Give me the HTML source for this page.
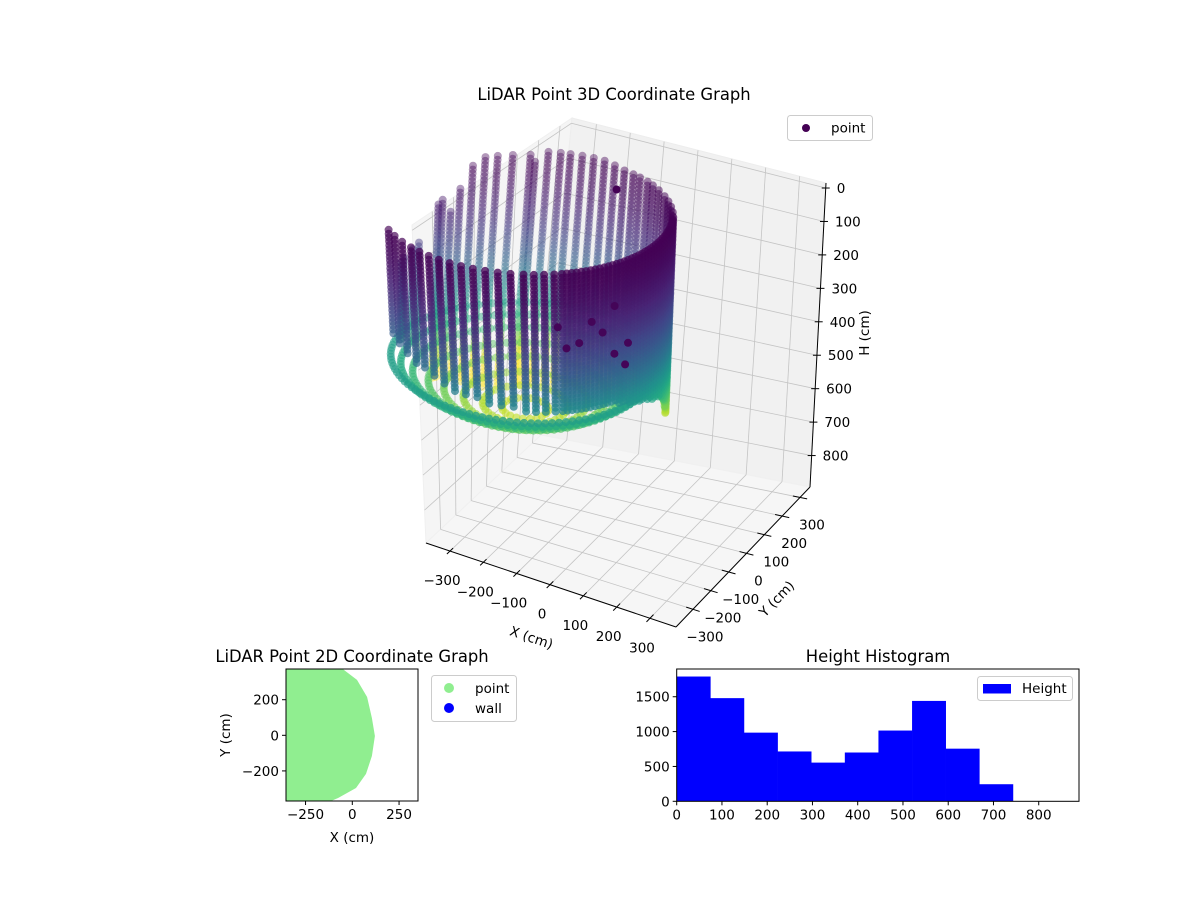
<!DOCTYPE html>
<html><head><meta charset="utf-8"><title>LiDAR charts</title>
<style>
html,body{margin:0;padding:0;background:#fff;}
svg{display:block;font-family:"DejaVu Sans","Liberation Sans",sans-serif;}
</style></head>
<body>
<svg id="fig" width="1200" height="900" viewBox="0 0 1200 900" xmlns="http://www.w3.org/2000/svg">
<rect x="0" y="0" width="1200" height="900" fill="#fff"/>
<g id="g3d"></g>
<text x="614" y="100" font-size="16.4" text-anchor="middle" fill="#000">LiDAR Point 3D Coordinate Graph</text>
<g>
<rect x="787.5" y="115.5" width="85" height="25" rx="3" fill="#fff" fill-opacity="0.8" stroke="#ccc"/>
<circle cx="806" cy="128" r="4" fill="#440154"/>
<text x="831" y="132.5" font-size="13.5" fill="#000">point</text>
</g>
<g id="g2d"></g>
<text x="352" y="662" font-size="16.4" text-anchor="middle" fill="#000">LiDAR Point 2D Coordinate Graph</text>
<g>
<rect x="431.5" y="675.5" width="85" height="46" rx="3" fill="#fff" stroke="#ccc"/>
<circle cx="449" cy="688" r="5" fill="#90ee90"/>
<text x="475" y="693" font-size="13.5" fill="#000">point</text>
<circle cx="449" cy="708" r="5" fill="#0000ff"/>
<text x="475" y="713" font-size="13.5" fill="#000">wall</text>
</g>
<g id="ghist"></g>
<text x="878" y="662" font-size="16.4" text-anchor="middle" fill="#000">Height Histogram</text>
<g>
<rect x="977.5" y="676.5" width="95" height="24" rx="3" fill="#fff" stroke="#ccc"/>
<rect x="983" y="684" width="28" height="9.5" fill="#0000ff"/>
<text x="1022" y="693" font-size="13.5" fill="#000">Height</text>
</g>
</svg>
<script>
// ---------- 3D data ----------
const frontAngles = [230,236,242,248,253,258,263,268,273,278,283,288,293,298,302,306,310,
 313,315,317,319,321,323,325,327,329,331,333,335,337,339,341,343,345,347,349,
 351,353,355,357,359,361,363,365,367,369,371,373,375,377,379,381,383,385,387];
const frontTops = [30,30,30,30,30,30,30,30,30,30,30,30,30,30,30,30,30,
 30,30,30,30,30,30,30,30,30,30,30,30,30,30,30,30,30,30,30,
 30,30,30,30,30,30,30,30,30,30,30,30,30,30,30,30,30,30,30];
const frontBottoms = [330,340,350,360,370,380,390,395,400,400,405,410,410,415,420,420,420,
 418,418,417,417,417,417,417,417,417,418,420,422,425,428,431,434,437,440,444,
 448,452,456,460,465,470,475,480,485,490,500,510,520,535,550,565,580,590,600];
const backAngles = [180,178,172,168,158,156,152,148,143,138,133,127,120,118,113,108,104,99,94,89,84,79,74,70,65,61,56,50,45,40,35];
const backTops = [270,260,250,240,150,140,180,120,60,40,40,40,40,60,30,30,30,30,30,30,35,40,40,40,40,40,40,40,40,40,40];
const backBottoms = [500,500,520,540,650,650,660,660,680,690,700,700,700,700,700,700,700,690,690,680,680,680,680,670,640,620,610,600,600,600,600];
const floorRadii = [60,110,160,210,250,290,320,345];
const floorHeights = [590,580,565,545,525,500,478,455];
const extraX = [186,131,204,216,236,315,364,315,191,-73];
const extraY = [-503,-575,-666,-623,-540,-627,-664,-556,-395,80];
const extraH = [60,60,60,60,60,60,60,60,60,0];
const ringCenter = [-221,-97];
const ringRadius = 360;
const xTicks3 = [-300,-200,-100,0,100,200,300];
const yTicks3 = [-300,-200,-100,0,100,200,300];
const hTicks3 = [0,100,200,300,400,500,600,700,800];

// ---------- 2D data ----------
const boundaryX = [-50,25,79,105,121,105,73,20,-76,-114];
const boundaryY = [372,311,215,97,-4,-116,-217,-296,-352,-369];
const xTicks2 = [-250,0,250];
const yTicks2 = [-200,0,200];

// ---------- Histogram data ----------
const binEdges = [0,74.3,148.6,222.9,297.2,371.5,445.8,520.1,594.4,668.7,743];
const binCounts = [1790,1480,985,715,555,700,1015,1440,755,245];
const histXTicks = [0,100,200,300,400,500,600,700,800];
const histYTicks = [0,500,1000,1500];

const NS='http://www.w3.org/2000/svg';
function mk(tag, attrs, parent){
  const e=document.createElementNS(NS,tag);
  for(const k in attrs) e.setAttribute(k, attrs[k]);
  parent.appendChild(e);
  return e;
}
const MINUS='\u2212';
function fmt(v){return v<0?MINUS+Math.abs(v):String(v);}

// ===== 3D =====
const g3=document.getElementById('g3d');
const XMIN=-372,XMAX=378,YMIN=-395,YMAX=356,HMIN=-15,HMAX=894;
const CR={T00:[412,225],T10:[682,297],T01:[572,118],T11:[826,183],B00:[426,543],B10:[676,627],B01:[541,435],B11:[810,487]};
function bil(A,B,C,D,u,v){
  const fx=A[0]+(B[0]-A[0])*u, fy=A[1]+(B[1]-A[1])*u;
  const bx=C[0]+(D[0]-C[0])*u, by=C[1]+(D[1]-C[1])*u;
  return [fx+(bx-fx)*v, fy+(by-fy)*v];
}
function P(x,y,h){
  const u=(x-XMIN)/(XMAX-XMIN), v=(y-YMIN)/(YMAX-YMIN), w=(h-HMIN)/(HMAX-HMIN);
  const t=bil(CR.T00,CR.T10,CR.T01,CR.T11,u,v), b=bil(CR.B00,CR.B10,CR.B01,CR.B11,u,v);
  return [t[0]+(b[0]-t[0])*w, t[1]+(b[1]-t[1])*w];
}
function poly(pts){return pts.map(p=>p[0].toFixed(1)+','+p[1].toFixed(1)).join(' ');}
let e;
e=mk('polygon',{points:poly([P(XMIN,YMIN,HMIN),P(XMIN,YMAX,HMIN),P(XMIN,YMAX,HMAX),P(XMIN,YMIN,HMAX)]),fill:'#f5f5f5',stroke:'#f0f0f0'},g3);


e=mk('polygon',{points:poly([P(XMIN,YMAX,HMIN),P(XMAX,YMAX,HMIN),P(XMAX,YMAX,HMAX),P(XMIN,YMAX,HMAX)]),fill:'#f1f1f1',stroke:'#ededed'},g3);


e=mk('polygon',{points:poly([P(XMIN,YMIN,HMAX),P(XMAX,YMIN,HMAX),P(XMAX,YMAX,HMAX),P(XMIN,YMAX,HMAX)]),fill:'#f6f6f6',stroke:'#f0f0f0'},g3);


function gl(a,b,name){
  const l=mk('line',{x1:a[0],y1:a[1],x2:b[0],y2:b[1],stroke:'#c4c4c4','stroke-width':0.8},g3);
  
  
}
xTicks3.forEach(x=>{gl(P(x,YMIN,HMAX),P(x,YMAX,HMAX),'x-gridline-floor');gl(P(x,YMAX,HMAX),P(x,YMAX,HMIN),'x-gridline-back');});
yTicks3.forEach(y=>{gl(P(XMIN,y,HMAX),P(XMAX,y,HMAX),'y-gridline-floor');gl(P(XMIN,y,HMAX),P(XMIN,y,HMIN),'y-gridline-left');});
hTicks3.forEach(h=>{gl(P(XMIN,YMIN,h),P(XMIN,YMAX,h),'h-gridline-left');gl(P(XMIN,YMAX,h),P(XMAX,YMAX,h),'h-gridline-back');});
function axl(a,b,name){
  const l=mk('line',{x1:a[0],y1:a[1],x2:b[0],y2:b[1],stroke:'#000','stroke-width':1},g3);
  
  
}
axl(P(XMIN,YMIN,HMAX),P(XMAX,YMIN,HMAX),'x-axis-line');
axl(P(XMAX,YMIN,HMAX),P(XMAX,YMAX,HMAX),'y-axis-line');
axl(P(XMAX,YMAX,HMIN),P(XMAX,YMAX,HMAX),'h-axis-line');
function lbl(x,y,txt,anchor,name,parent){
  const t=mk('text',{x:x,y:y,'font-size':13.5,'text-anchor':anchor,fill:'#000'},parent);
  t.textContent=txt;
  
  
  return t;
}
xTicks3.forEach(x=>{
  const a=P(x,YMIN+20,HMAX), b=P(x,YMIN-20,HMAX);
  axl(a,b,'x-tick');
  const p=P(x,YMIN,HMAX);
  lbl(p[0]-8,p[1]+34,fmt(x),'middle','x-tick-label',g3);
});
yTicks3.forEach(y=>{
  const a=P(XMAX-20,y,HMAX), b=P(XMAX+20,y,HMAX);
  axl(a,b,'y-tick');
  const p=P(XMAX,y,HMAX);
  lbl(p[0]+12,p[1]+32,fmt(y),'middle','y-tick-label',g3);
});
hTicks3.forEach(h=>{
  const p=P(XMAX,YMAX,h);
  axl([p[0]-4,p[1]],[p[0]+4,p[1]],'h-tick');
  lbl(p[0]+11,p[1]+5,fmt(h),'start','h-tick-label',g3);
});
let t=mk('text',{x:0,y:0,'font-size':13.5,'text-anchor':'middle',fill:'#000',transform:'translate(530,642) rotate(18.6)'},g3);
t.textContent='X (cm)';


t=mk('text',{x:0,y:0,'font-size':13.5,'text-anchor':'middle',fill:'#000',transform:'translate(780,602) rotate(-46)'},g3);
t.textContent='Y (cm)';


t=mk('text',{x:0,y:0,'font-size':13.5,'text-anchor':'middle',fill:'#000',transform:'translate(869,333) rotate(-90)'},g3);
t.textContent='H (cm)';



// viridis
const VIR=['#440154','#482475','#414487','#355f8d','#2a788e','#21918c','#22a884','#44bf70','#7ad151','#bddf26','#fde725'];
function hex(c){return [parseInt(c.substr(1,2),16),parseInt(c.substr(3,2),16),parseInt(c.substr(5,2),16)];}
function viridis(s){
  s=Math.max(0,Math.min(1,s));
  const f=s*10, i=Math.min(9,Math.floor(f)), r=f-i;
  const a=hex(VIR[i]), b=hex(VIR[i+1]);
  return 'rgb('+a.map((v,k)=>Math.round(v+(b[k]-v)*r)).join(',')+')';
}
function colorFor(h){return viridis(Math.pow(Math.max(0,h)/620,1.9));}

const pts=[];
function addColumn(theta,top,bot){
  const rad=theta*Math.PI/180;
  const x=ringCenter[0]+ringRadius*Math.cos(rad), y=ringCenter[1]+ringRadius*Math.sin(rad);
  for(let h=top; h<=bot; h+=11) pts.push([x,y,h]);
}
frontAngles.forEach((a,i)=>addColumn(a,frontTops[i],frontBottoms[i]));
backAngles.forEach((a,i)=>addColumn(a,backTops[i],backBottoms[i]));
floorRadii.forEach((r,i)=>{
  const n=Math.round(2*Math.PI*r/18);
  for(let k=0;k<n;k++){
    const a=2*Math.PI*k/n;
    pts.push([ringCenter[0]+r*Math.cos(a), ringCenter[1]+r*Math.sin(a), floorHeights[i]]);
  }
});
extraX.forEach((x,i)=>pts.push([x,extraY[i],extraH[i],1]));
function near(p){return 0.5*p[0]-0.866*p[1];}
let nmin=Infinity,nmax=-Infinity;
pts.forEach(p=>{const n=near(p); if(n<nmin)nmin=n; if(n>nmax)nmax=n;});
pts.sort((a,b)=>near(a)-near(b));
const gp=mk('g',{},g3);


pts.forEach(p=>{
  const s=P(p[0],p[1],p[2]);
  const al=p[3]?1:0.4+0.6*(near(p)-nmin)/(nmax-nmin);
  const c=mk('circle',{cx:s[0].toFixed(1),cy:s[1].toFixed(1),r:4,fill:colorFor(p[2]),'fill-opacity':al.toFixed(2)},gp);
  
  
});

// ===== 2D =====
const g2=document.getElementById('g2d');
const AX2={l:286,r:418,t:669,b:801}, X2MIN=-354.5,X2MAX=351.3,Y2MIN=-369,Y2MAX=372.5;
function sx2(x){return AX2.l+(x-X2MIN)/(X2MAX-X2MIN)*(AX2.r-AX2.l);}
function sy2(y){return AX2.b-(y-Y2MIN)/(Y2MAX-Y2MIN)*(AX2.b-AX2.t);}
const clip=mk('clipPath',{id:'clip2'},g2);
mk('rect',{x:AX2.l,y:AX2.t,width:AX2.r-AX2.l,height:AX2.b-AX2.t},clip);
const shape=[[sx2(X2MIN-10),sy2(boundaryY[0])]];
boundaryX.forEach((x,i)=>shape.push([sx2(x),sy2(boundaryY[i])]));
shape.push([sx2(X2MIN-10),sy2(boundaryY[boundaryY.length-1])]);
e=mk('polygon',{points:poly(shape),fill:'#90ee90','clip-path':'url(#clip2)'},g2);


e=mk('rect',{x:AX2.l,y:AX2.t,width:AX2.r-AX2.l,height:AX2.b-AX2.t,fill:'none',stroke:'#000','stroke-width':1},g2);


xTicks2.forEach(v=>{
  const x=sx2(v);
  e=mk('line',{x1:x,y1:AX2.b,x2:x,y2:AX2.b+4,stroke:'#000'},g2);
  
  
  lbl(x,AX2.b+18,fmt(v),'middle','2d-x-tick-label',g2);
});
yTicks2.forEach(v=>{
  const y=sy2(v);
  e=mk('line',{x1:AX2.l-4,y1:y,x2:AX2.l,y2:y,stroke:'#000'},g2);
  
  
  lbl(AX2.l-7,y+5,fmt(v),'end','2d-y-tick-label',g2);
});
lbl(352,842,'X (cm)','middle','2d-x-axis-title',g2);
t=mk('text',{x:0,y:0,'font-size':13.5,'text-anchor':'middle',fill:'#000',transform:'translate(230,735) rotate(-90)'},g2);
t.textContent='Y (cm)';



// ===== Histogram =====
const gh=document.getElementById('ghist');
const AXH={l:676.7,r:1079,t:669,b:801.3}, HXMAX=889, HYMAX=1898;
function sxh(x){return AXH.l+x/HXMAX*(AXH.r-AXH.l);}
function syh(y){return AXH.b-y/HYMAX*(AXH.b-AXH.t);}
binCounts.forEach((c,i)=>{
  const x0=sxh(binEdges[i]), x1=sxh(binEdges[i+1]), y=syh(c);
  const r=mk('rect',{x:x0.toFixed(2),y:y.toFixed(2),width:(x1-x0+0.3).toFixed(2),height:(AXH.b-y).toFixed(2),fill:'#0000ff'},gh);
  
  
});
e=mk('rect',{x:AXH.l,y:AXH.t,width:AXH.r-AXH.l,height:AXH.b-AXH.t,fill:'none',stroke:'#000','stroke-width':1},gh);


histXTicks.forEach(v=>{
  const x=sxh(v);
  e=mk('line',{x1:x,y1:AXH.b,x2:x,y2:AXH.b+4,stroke:'#000'},gh);
  
  
  lbl(x,AXH.b+18,fmt(v),'middle','histogram-x-tick-label',gh);
});
histYTicks.forEach(v=>{
  const y=syh(v);
  e=mk('line',{x1:AXH.l-4,y1:y,x2:AXH.l,y2:y,stroke:'#000'},gh);
  
  
  lbl(AXH.l-7,y+5,fmt(v),'end','histogram-y-tick-label',gh);
});
</script>
</body></html>
